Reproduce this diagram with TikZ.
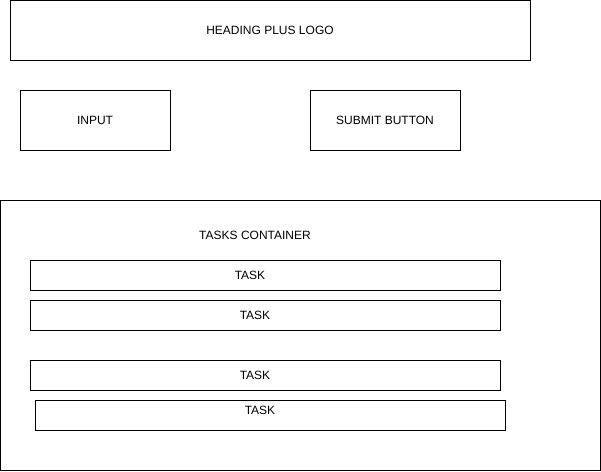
\documentclass[tikz,border=0pt]{standalone}
\usepackage{fontspec}
\setmainfont{Liberation Sans}
\begin{document}
\begin{tikzpicture}[x=1pt,y=-1pt,
  box/.style={draw=black,line width=1pt,fill=white},
  lbl/.style={font=\fontsize{12}{14}\selectfont,inner sep=0pt,anchor=center}]
\useasboundingbox (0,0) rectangle (601,471);
\draw[box] (10.5,0.5) rectangle (530.5,60.5) coordinate (headc);
\node[lbl] (heading) at (270,30) {HEADING PLUS LOGO};
\draw[box] (20.5,90.5) rectangle (170.5,150.5);
\node[lbl] (input) at (95,120) {INPUT};
\draw[box] (310.5,90.5) rectangle (460.5,150.5);
\node[lbl] (submit) at (385,120) {SUBMIT BUTTON};
\draw[box] (0.5,200.5) rectangle (600.5,470.5);
\node[lbl] (tasks) at (255,235) {TASKS CONTAINER};
\draw[box] (30.5,260.5) rectangle (500.5,290.5);
\node[lbl] (t1) at (250,275) {TASK};
\draw[box] (30.5,300.5) rectangle (500.5,330.5);
\node[lbl] (t2) at (255,315) {TASK};
\draw[box] (30.5,360.5) rectangle (500.5,390.5);
\node[lbl] (t3) at (255,375) {TASK};
\draw[box] (35.5,400.5) rectangle (505.5,430.5);
\node[lbl] (t4) at (260,410) {TASK};
\end{tikzpicture}
\end{document}
